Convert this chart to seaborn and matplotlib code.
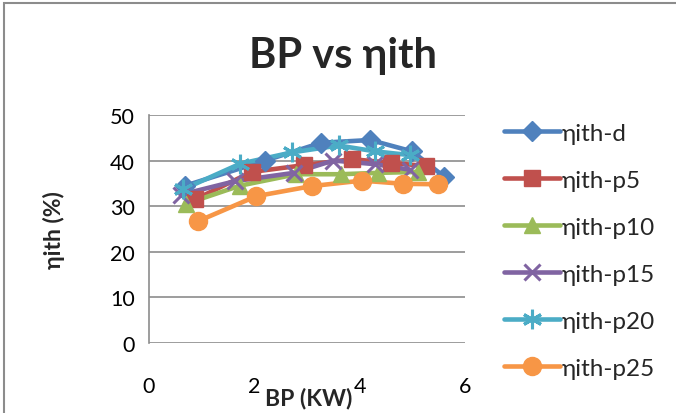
import matplotlib
matplotlib.use("Agg")
import matplotlib.pyplot as plt
from matplotlib.patches import Rectangle
import seaborn as sns
import pandas as pd

# Brake power (kW) and indicated thermal efficiency (%) for each fuel blend
series_names = ["ηith-d", "ηith-p5", "ηith-p10", "ηith-p15", "ηith-p20", "ηith-p25"]

bp_d = [0.69, 2.21, 3.27, 4.20, 5.00, 5.60]
eff_d = [34.5, 40.0, 43.9, 44.5, 42.0, 36.5]

bp_p5 = [0.88, 1.95, 2.95, 3.85, 4.60, 5.25]
eff_p5 = [31.5, 37.5, 39.0, 40.3, 39.5, 38.8]

bp_p10 = [0.70, 1.73, 2.80, 3.64, 4.35, 5.10]
eff_p10 = [30.5, 34.5, 37.0, 37.0, 37.3, 37.5]

bp_p15 = [0.60, 1.64, 2.75, 3.50, 4.30, 4.95]
eff_p15 = [32.5, 35.5, 37.3, 40.0, 39.2, 38.0]

bp_p20 = [0.65, 1.73, 2.72, 3.60, 4.30, 4.95]
eff_p20 = [33.7, 39.3, 41.8, 43.3, 42.0, 41.2]

bp_p25 = [0.93, 2.04, 3.09, 4.04, 4.83, 5.48]
eff_p25 = [26.7, 32.2, 34.4, 35.6, 34.9, 34.8]

x_ticks = [0, 2, 4, 6]
y_ticks = [0, 10, 20, 30, 40, 50]

bp_all = [bp_d, bp_p5, bp_p10, bp_p15, bp_p20, bp_p25]
eff_all = [eff_d, eff_p5, eff_p10, eff_p15, eff_p20, eff_p25]

rows = []
for name, xs, ys in zip(series_names, bp_all, eff_all):
    for order, (x, y) in enumerate(zip(xs, ys)):
        rows.append({"series": name, "BP": x, "eff": y, "order": order})
df = pd.DataFrame(rows)

sns.set_theme(style="white")
plt.rcParams["font.family"] = ["Lato", "Open Sans", "DejaVu Sans"]

colors = ["#4F81BD", "#C0504D", "#9BBB59", "#8064A2", "#4BACC6", "#F79646"]
markers = ["D", "s", "^", "x", (6, 2, 0), "o"]
msizes = [10, 11, 12, 12, 14, 13]
line_w = 3.3


def edge_width(m):
    return 2.2 if m == "x" or isinstance(m, tuple) else 1.0


fig = plt.figure(figsize=(6.76, 4.14), dpi=100)
ax = fig.add_axes([0.2204, 0.169, 0.4675, 0.551])

palette = dict(zip(series_names, colors))
sns.lineplot(data=df, x="BP", y="eff", hue="series", hue_order=series_names,
             palette=palette, sort=False, estimator=None, units="series",
             linewidth=line_w, legend=False, ax=ax)

# markers drawn per series on top of the lines
for name, m, ms, c in zip(series_names, markers, msizes, colors):
    sub = df[df["series"] == name]
    ax.plot(sub["BP"], sub["eff"], linestyle="none", marker=m, markersize=ms,
            color=c, markeredgecolor=c, markeredgewidth=edge_width(m))

ax.set_xlim(0, 6)
ax.set_ylim(0, 50)
ax.set_xticks(x_ticks)
ax.set_yticks(y_ticks)
ax.set_xticklabels([str(t) for t in x_ticks])
ax.set_yticklabels([str(t) for t in y_ticks])
ax.tick_params(axis="both", length=0, labelsize=15.5, colors="black")
ax.tick_params(axis="x", pad=24)
ax.tick_params(axis="y", pad=10)

ax.grid(axis="y", color="#8C8C8C", linewidth=1.2)
ax.grid(axis="x", visible=False)
for side in ("top", "right", "bottom"):
    ax.spines[side].set_visible(False)
ax.spines["left"].set_color("#8C8C8C")
ax.spines["left"].set_linewidth(1.2)
ax.set_axisbelow(True)

ax.set_xlabel("BP (KW)", fontsize=16.5, fontweight="bold")
ax.xaxis.set_label_coords(0.506, -0.24)
ax.xaxis.label.set_verticalalignment("center")
ax.set_ylabel("ηith (%)", fontsize=16.5, fontweight="bold")
ax.yaxis.set_label_coords(-0.3, 0.5)
ax.yaxis.label.set_verticalalignment("center")

fig.text(0.507, 0.864, "BP vs ηith", ha="center", va="center",
         fontsize=30, fontweight="bold")

# legend entries
handles = []
for name, m, ms, c in zip(series_names, markers, msizes, colors):
    h, = ax.plot([], [], color=c, linewidth=line_w, marker=m, markersize=ms,
                 markeredgecolor=c, markeredgewidth=edge_width(m))
    handles.append(h)
fig.legend(handles, series_names, loc="upper left", bbox_to_anchor=(0.731, 0.725),
           frameon=False, fontsize=17.5, handlelength=2.3, handletextpad=0.1,
           labelspacing=1.07, borderaxespad=0)

# outer chart border
fig.patches.append(Rectangle((0.006, -0.1), 1.2, 1.09, transform=fig.transFigure,
                             fill=False, edgecolor="#8C8C8C", linewidth=1.5))

fig.savefig("out.png", dpi=100)
